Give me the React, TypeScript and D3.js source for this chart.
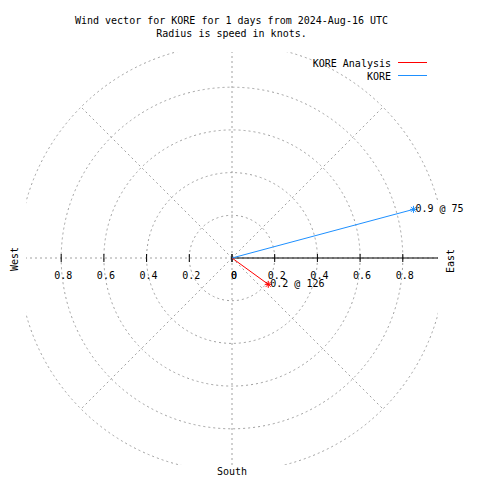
import React from "react";
import * as d3 from "d3";

const titleLines = ["Wind vector for KORE for 1 days from 2024-Aug-16 UTC", "Radius is speed in knots."];
const seriesNames = ["KORE Analysis", "KORE"];
const seriesSpeeds = [0.21, 0.88];
const seriesDirections = [126, 75];
const seriesColors = ["#ff0000", "#1e90ff"];
const ringValues = [0.2, 0.4, 0.6, 0.8, 1.0];
const tickValues = [0, 0.2, 0.4, 0.6, 0.8];
const cardinalAngles = [0, 90, 180, 270];
const diagonalAngles = [45, 135, 225, 315];

const W = 480;
const H = 480;
const cx = 232;
const cy = 258;
const half = 206;
const FONT = "'DejaVu Sans Mono', monospace";
const GRID = "#a0a0a0";

export default function App() {
  const r = d3.scaleLinear().domain([0, 1]).range([0, 213.5]);
  const toXY = (speed: number, dir: number): [number, number] => {
    const a = (dir * Math.PI) / 180;
    return [cx + r(speed) * Math.sin(a), cy - r(speed) * Math.cos(a)];
  };
  const star = (x: number, y: number, color: string) => {
    const s = 3.5;
    const angles = [0, 45, 90, 135];
    return angles.map((ang) => {
      const a = (ang * Math.PI) / 180;
      return (
        <line key={ang} x1={x - s * Math.cos(a)} y1={y - s * Math.sin(a)} x2={x + s * Math.cos(a)} y2={y + s * Math.sin(a)} stroke={color} strokeWidth={1} />
      );
    });
  };
  const lineGen = d3.line<[number, number]>();

  return (
    <div style={{ position: "absolute", left: 0, top: 0, width: W, height: H, background: "#fff" }}>
      <svg width={W} height={H} style={{ display: "block" }}>
        <defs>
          <clipPath id="plotClip">
            <rect x={cx - half} y={cy - half} width={half * 2} height={half * 2 + 1} />
          </clipPath>
        </defs>
        <rect x={0} y={0} width={W} height={H} fill="#fff" />
        <g clipPath="url(#plotClip)" fill="none" stroke={GRID} strokeWidth={1} strokeDasharray="2,3">
          {ringValues.map((v) => (
            <circle key={v} cx={cx} cy={cy} r={r(v)} />
          ))}
          {cardinalAngles.map((ang) => {
            const [x2, y2] = toXY(2, ang);
            return <path key={ang} d={lineGen([[cx, cy], [x2, y2]]) || ""} />;
          })}
          {diagonalAngles.map((ang) => {
            const [x2, y2] = toXY(1, ang);
            return <path key={ang} d={lineGen([[cx, cy], [x2, y2]]) || ""} />;
          })}
        </g>
        {/* east axis */}
        <line x1={cx} y1={cy} x2={cx + half} y2={cy} stroke="#000" strokeWidth={1} />
        {tickValues.map((v) => (
          <g key={"t" + v}>
            <line x1={cx + r(v)} x2={cx + r(v)} y1={cy - 4} y2={cy + 4} stroke="#000" />
            <line x1={cx - r(v)} x2={cx - r(v)} y1={cy - 4} y2={cy + 4} stroke="#000" />
          </g>
        ))}
        {tickValues.map((v) => (
          <g key={"l" + v} fontFamily={FONT} fontSize={10} textAnchor="middle" fill="#000">
            <text x={cx + r(v) + 2} y={cy + 21}>{String(v)}</text>
            <text x={cx - r(v) + 2} y={cy + 21}>{String(v)}</text>
          </g>
        ))}
        {/* vectors */}
        {seriesNames.map((name, i) => {
          const [x, y] = toXY(seriesSpeeds[i], seriesDirections[i]);
          return (
            <g key={name}>
              <line x1={cx} y1={cy} x2={x} y2={y} stroke={seriesColors[i]} strokeWidth={1} />
              {star(x, y, seriesColors[i])}
              <text x={x + 2} y={y + 3} fontFamily={FONT} fontSize={10} fill="#000">
                {seriesSpeeds[i].toFixed(1) + " @ " + seriesDirections[i]}
              </text>
            </g>
          );
        })}
        {/* direction labels */}
        <text transform={`translate(${18},${cy + 1}) rotate(-90)`} textAnchor="middle" fontFamily={FONT} fontSize={10}>West</text>
        <text transform={`translate(${454},${cy + 3}) rotate(-90)`} textAnchor="middle" fontFamily={FONT} fontSize={10}>East</text>
        <text x={cx} y={475} textAnchor="middle" fontFamily={FONT} fontSize={10}>South</text>
        {/* title */}
        {titleLines.map((t, i) => (
          <text key={t} x={231.5} y={24 + i * 12.7} textAnchor="middle" fontFamily={FONT} fontSize={10}>{t}</text>
        ))}
        {/* legend */}
        {seriesNames.map((name, i) => (
          <g key={"lg" + name}>
            <text x={391} y={67 + i * 13} textAnchor="end" fontFamily={FONT} fontSize={10}>{name}</text>
            <line x1={398} x2={427} y1={62.5 + i * 13} y2={62.5 + i * 13} stroke={seriesColors[i]} strokeWidth={1} />
          </g>
        ))}
      </svg>
    </div>
  );
}
